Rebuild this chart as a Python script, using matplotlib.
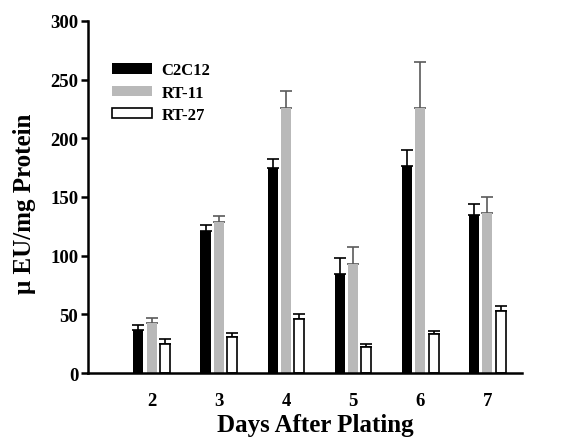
import numpy as np
import matplotlib
matplotlib.use("Agg")
import matplotlib.pyplot as plt

# values
days = [2, 3, 4, 5, 6, 7]
c2c12 = [37, 121, 175, 84, 176, 135]
c2c12_err = [4, 5, 7, 14, 14, 9]
rt11 = [43, 129, 226, 93, 226, 136]
rt11_err = [4, 5, 14, 14, 39, 14]
rt27 = [25, 31, 46, 22, 33, 53]
rt27_err = [4, 3, 4, 3, 3, 4]

plt.rcParams['font.family'] = ['Liberation Serif', 'DejaVu Serif']
plt.rcParams['font.weight'] = 'bold'

fig = plt.figure(figsize=(5.65, 4.39), dpi=100)
ax = fig.add_axes([0.156, 0.148, 0.768, 0.802])

x = np.array(days, dtype=float)
w = 0.15
off = 0.2

ax.bar(x - off, c2c12, w, color='black', label='C2C12', zorder=2)
ax.errorbar(x - off, c2c12, yerr=[np.zeros(6), c2c12_err], fmt='none',
            ecolor='black', elinewidth=1.2, capsize=4, capthick=1.2, zorder=1)
ax.bar(x, rt11, w, color='#b9b9b9', label='RT-11', zorder=2)
ax.errorbar(x, rt11, yerr=[np.zeros(6), rt11_err], fmt='none',
            ecolor='#5a5a5a', elinewidth=1.2, capsize=4, capthick=1.2, zorder=1)
ax.bar(x + off, rt27, w, color='white', edgecolor='black', linewidth=1.2,
       label='RT-27', zorder=2)
ax.errorbar(x + off, rt27, yerr=[np.zeros(6), rt27_err], fmt='none',
            ecolor='black', elinewidth=1.2, capsize=4, capthick=1.2, zorder=1)

ax.set_xlim(1.05, 7.52)
ax.set_ylim(0, 300)
ax.set_yticks([0, 50, 100, 150, 200, 250, 300])
ax.set_xticks(days)
ax.tick_params(axis='x', length=0, labelsize=13.5, pad=14)
ax.tick_params(axis='y', length=5, width=1.8, labelsize=13.5, pad=2)
for s in ['top', 'right']:
    ax.spines[s].set_visible(False)
for s in ['left', 'bottom']:
    ax.spines[s].set_linewidth(1.8)

ax.set_xlabel('Days After Plating', fontsize=18, fontweight='bold', labelpad=2.5)
ax.set_ylabel('\u03bc EU/mg Protein', fontsize=18, fontweight='bold', labelpad=10)
ax.xaxis.label.set_x(0.523)
ax.yaxis.label.set_y(0.483)

ax.legend(loc='upper left', bbox_to_anchor=(0.035, 0.906), frameon=False,
          fontsize=12, handlelength=2.4, handleheight=0.6, labelspacing=0.38,
          handletextpad=0.6, borderpad=0)

fig.savefig('out.png', dpi=100)
